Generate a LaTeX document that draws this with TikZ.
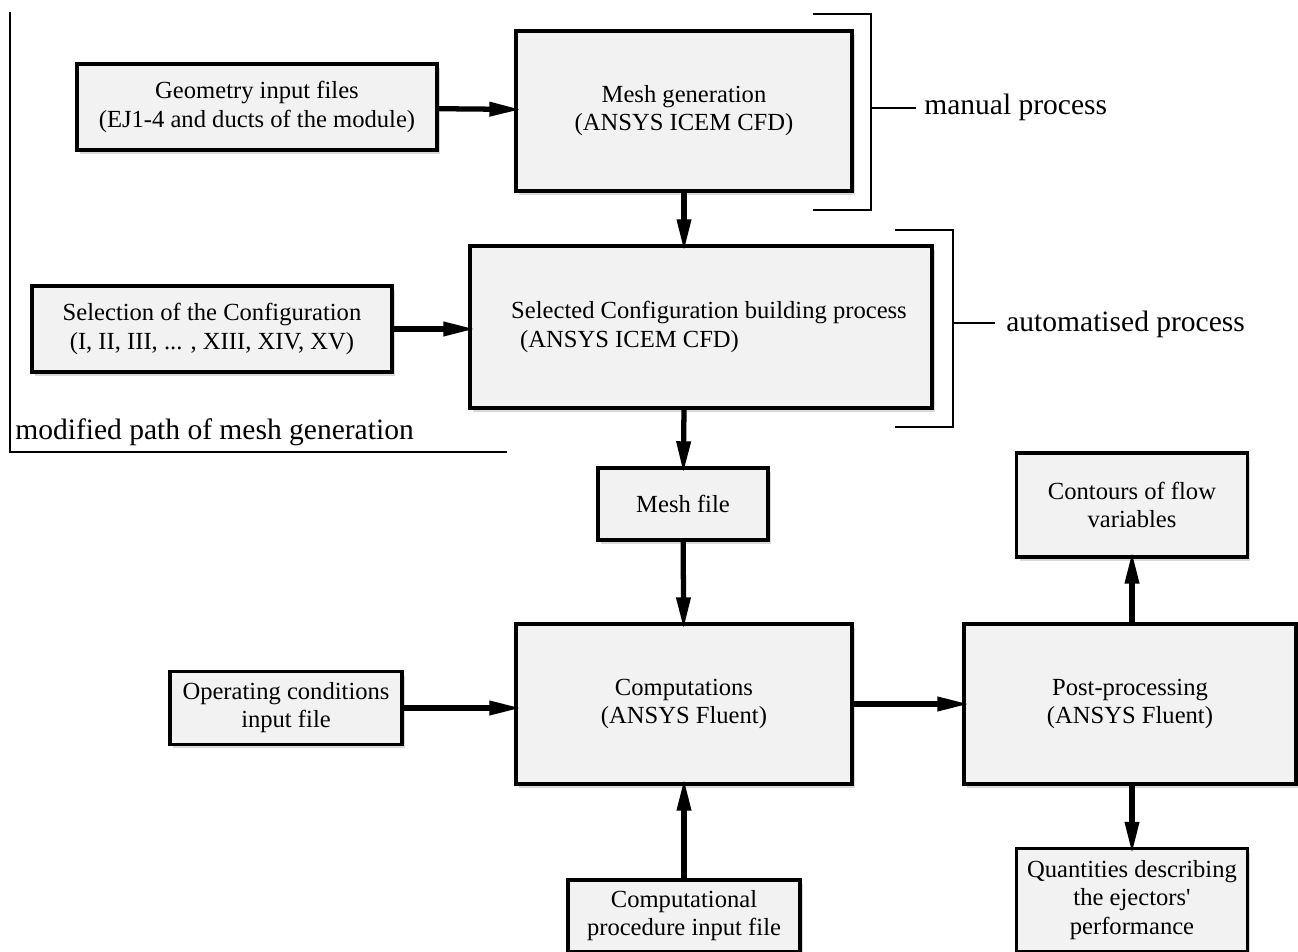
\documentclass[tikz,border=0pt]{standalone}
\usepackage{fontspec}
\setmainfont{Liberation Serif}
\usetikzlibrary{arrows.meta, shadows}

\begin{document}
\begin{tikzpicture}[x=0.02cm, y=-0.02cm,
    box/.style={draw=borderColour, fill=fillColour, line width=2.2pt, align=center,
        font=\fontsize{14}{16}\selectfont, inner sep=2pt, outer sep=0pt,
        drop shadow={shadow xshift=0.06cm, shadow yshift=-0.08cm, opacity=0.3}},
    flow/.style={line width=3pt, shorten >=-3pt,
        -{Triangle[length=0.64cm 0 0, width=0.27cm 0 0]}},
    bracket/.style={line width=0.8pt},
    note/.style={font=\fontsize{16.8}{19}\selectfont, anchor=base west, inner sep=0pt}]

    \definecolor{borderColour}{HTML}{000000}
    \definecolor{fillColour}{HTML}{F2F2F2}

    % Fix the page size
    \useasboundingbox (0,0) rectangle (1298,952);

    % Draw the mesh generation part
    \node[box, minimum width=7.2cm, minimum height=1.72cm] (geometry) at (257,107)
        {Geometry input files\\(EJ1-4 and ducts of the module)};
    \node[box, minimum width=6.72cm, minimum height=3.2cm] (meshgen) at (684,111)
        {Mesh generation\\(ANSYS ICEM CFD)};
    \node[box, minimum width=7.2cm, minimum height=1.72cm] (selection) at (212,329)
        {Selection of the Configuration\\(I, II, III, ... , XIII, XIV, XV)};
    \node[box, minimum width=9.24cm, minimum height=3.24cm, align=left] (building) at (701,327)
        {\hspace*{0.32cm}Selected Configuration building process\\\hspace*{0.5cm}(ANSYS ICEM CFD)};
    \node[box, minimum width=3.4cm, minimum height=1.44cm] (meshfile) at (683,504) {Mesh file};

    % Draw the computation part
    \node[box, minimum width=6.72cm, minimum height=3.2cm] (computations) at (684,704)
        {Computations\\(ANSYS Fluent)};
    \node[box, minimum width=4.64cm, minimum height=1.46cm] (operating) at (286,708)
        {Operating conditions\\input file};
    \node[box, minimum width=4.64cm, minimum height=1.44cm] (procedure) at (684,916)
        {Computational\\procedure input file};
    \node[box, minimum width=6.64cm, minimum height=3.2cm] (postproc) at (1130,704)
        {Post-processing\\(ANSYS Fluent)};
    \node[box, minimum width=4.62cm, minimum height=2.08cm] (contours) at (1132,505)
        {Contours of flow\\variables};
    \node[box, minimum width=4.62cm, minimum height=2.06cm] (quantities) at (1132,900)
        {Quantities describing\\the ejectors\textquotesingle\\performance};

    % Draw arrows
    \draw[flow] (geometry) -- (meshgen);
    \draw[flow] (meshgen) -- (meshgen.south |- building.north);
    \draw[flow] (selection) -- (selection.east -| building.west);
    \draw[flow] (meshgen.south |- building.south) -- (meshfile);
    \draw[flow] (meshfile) -- (computations);
    \draw[flow] (operating) -- (operating.east -| computations.west);
    \draw[flow] (procedure) -- (computations);
    \draw[flow] (computations) -- (postproc);
    \draw[flow] (contours.south |- postproc.north) -- (contours);
    \draw[flow] (quantities.north |- postproc.south) -- (quantities);

    % Draw brackets and their labels
    \draw[bracket] (10,12) -- (10,452) -- (507,452);
    \node[note] (modpath) at (15,440) {modified path of mesh generation};
    \draw[bracket] (813,14) -- (871,14) -- (871,210) -- (813,210);
    \draw[bracket] (871,108) -- (916,108);
    \node[note] (manual) at (924,115) {manual process};
    \draw[bracket] (895,230) -- (953,230) -- (953,427) -- (895,427);
    \draw[bracket] (953,323) -- (995,323);
    \node[note] (automatic) at (1006,332) {automatised process};
\end{tikzpicture}
\end{document}
